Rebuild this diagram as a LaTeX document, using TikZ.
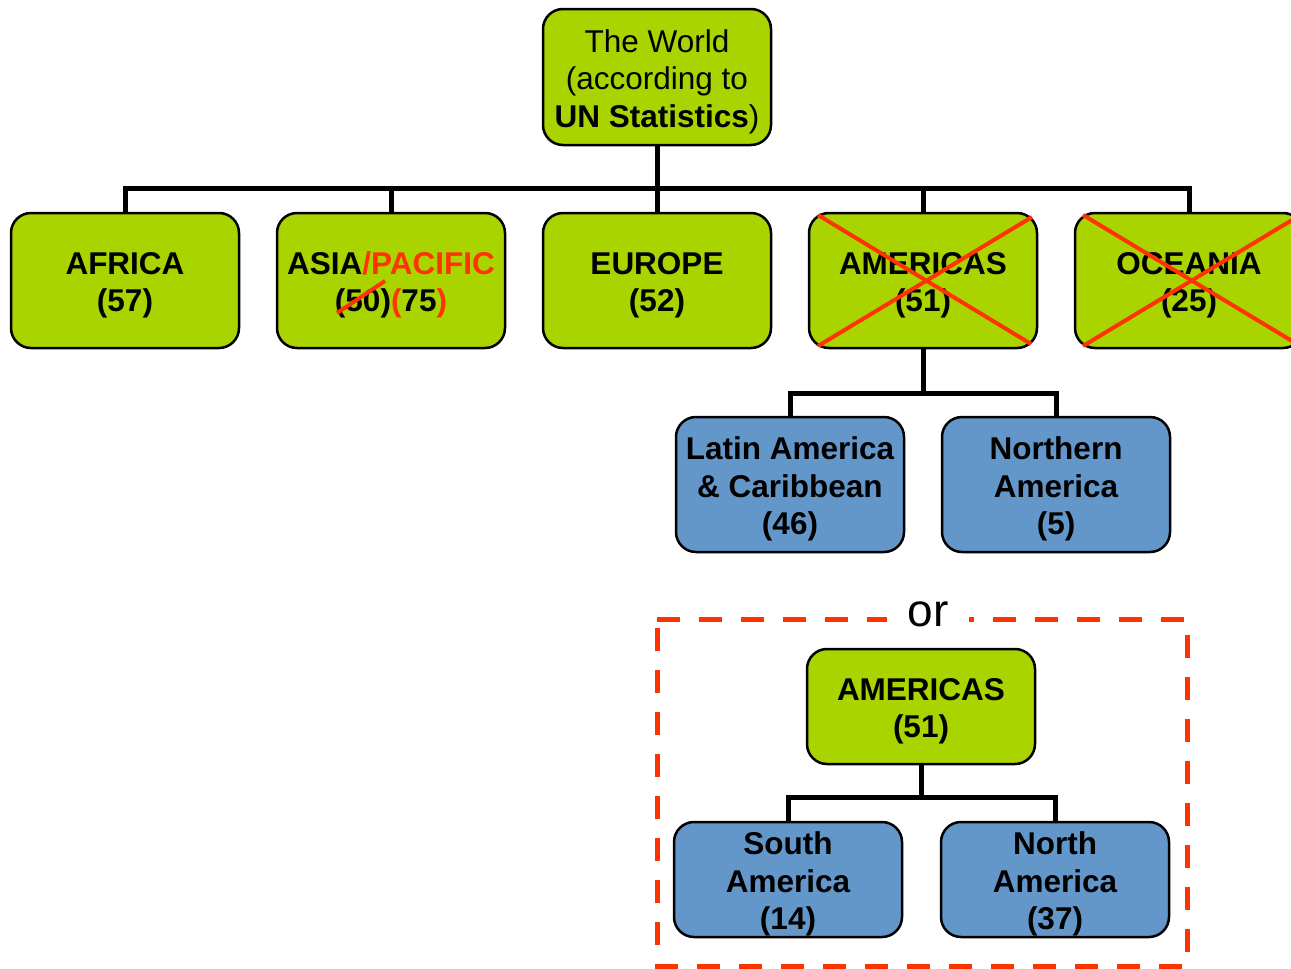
\documentclass[tikz,border=0pt]{standalone}
\usepackage{fontspec}
\setmainfont{Liberation Sans}
\usetikzlibrary{calc}
\definecolor{gfill}{HTML}{AAD400}
\definecolor{bfill}{HTML}{6397CA}
\definecolor{xred}{HTML}{FF3300}
\newcommand\tstr{\rule{0pt}{32pt}}
\begin{document}
\begin{tikzpicture}[x=1pt,y=-1pt,
  box/.style={draw=black, line width=2.5pt, rounded corners=20pt, minimum width=228pt, minimum height=135pt, align=center, inner sep=0pt, font=\fontsize{31.5}{37.5}\selectfont\bfseries},
  gbox/.style={box, fill=gfill},
  bbox/.style={box, fill=bfill},
  link/.style={line width=5pt, black},
  cross/.style={line width=4pt, xred}]
\clip (0,0) rectangle (1291,969);
\fill[white] (0,0) rectangle (1291,969);

% top
\node[gbox, minimum height=136pt, font=\fontsize{31.5}{37.5}\selectfont] (w) at (657,77) {\tstr The World\\(according to\\\textbf{UN Statistics})};

% row 1
\node[gbox] (af) at (125,280.5) {\tstr AFRICA\\(57)};
\node[gbox] (as) at (391,280.5) {\tstr ASIA\textcolor{xred}{/PACIFIC}\\(50)\textcolor{xred}{(}75\textcolor{xred}{)}};
\node[gbox] (eu) at (657,280.5) {\tstr EUROPE\\(52)};
\node[gbox] (am) at (923,280.5) {\tstr AMERICAS\\(51)};
\node[gbox] (oc) at (1189,280.5) {\tstr OCEANIA\\(25)};

% row 2
\node[bbox] (la) at (790,484.5) {\tstr Latin America\\\& Caribbean\\(46)};
\node[bbox] (no) at (1056,484.5) {\tstr Northern\\America\\(5)};

% alternative
\draw[xred, line width=5pt, dash pattern=on 23pt off 19pt] (657,619) -- (1187,619) -- (1187,966) -- (657,966) -- cycle;
\node[fill=white, minimum width=82pt, inner sep=3pt, font=\fontsize{46}{50}\selectfont] (or) at (928,614) {or};

\node[gbox, minimum height=115pt] (am2) at (921,706.5) {\tstr AMERICAS\\(51)};
\node[bbox, minimum height=115pt] (sa) at (788,879.5) {\tstr South\\America\\(14)};
\node[bbox, minimum height=115pt] (na) at (1055,879.5) {\tstr North\\America\\(37)};

% connectors
\coordinate (b1) at (657,188);
\draw[link] (w.south) -- (b1);
\draw[link] (af.north) -- (af.north |- b1) -- (oc.north |- b1) -- (oc.north);
\draw[link] (as.north) -- (as.north |- b1);
\draw[link] (eu.north) -- (eu.north |- b1);
\draw[link] (am.north) -- (am.north |- b1);

\coordinate (b2) at (923,393);
\draw[link] (am.south) -- (b2);
\draw[link] (la.north) -- (la.north |- b2) -- (no.north |- b2) -- (no.north);

\coordinate (b3) at (921,797);
\draw[link] (am2.south) -- (b3);
\draw[link] (sa.north) -- (sa.north |- b3) -- (na.north |- b3) -- (na.north);

% crossings-out
\draw[cross] (337,313) -- (385,281);
\draw[cross] (818,215) -- (1031,344);
\draw[cross] (1032,217) -- (818,346);
\draw[cross] (1083,215) -- (1297,344);
\draw[cross] (1083,346) -- (1297,217);
\end{tikzpicture}
\end{document}
